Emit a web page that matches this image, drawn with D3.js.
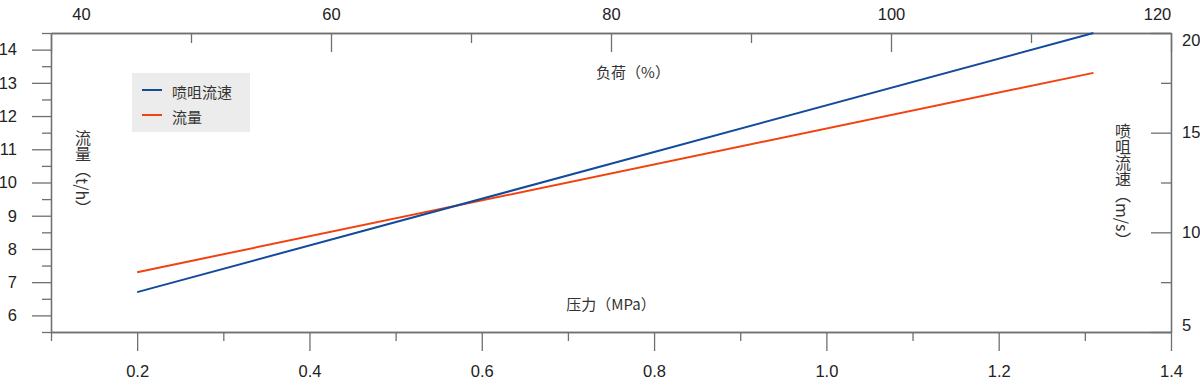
<!DOCTYPE html>
<html>
<head>
<meta charset="utf-8">
<script src="https://cdn.jsdelivr.net/npm/d3@7"></script>
<style>
  body { margin: 0; background: #fff; }
  svg { display: block; }
  .tick text { font-family: "Liberation Sans", Arial, sans-serif; font-size: 16.5px; fill: #222; }
  .domain, .tick line { stroke: #707070; stroke-width: 1.3; }
  .cjk { font-family: "Noto Sans CJK SC", sans-serif; fill: #333; }
</style>
</head>
<body>
<svg id="chart" width="1200" height="385"></svg>
<script>
// pressure (MPa) on bottom axis; flow (t/h) left axis; nozzle speed (m/s) right axis
const pressure = [0.2, 1.31];
const flowValues = [7.3, 13.3];       // 流量 t/h
const speedValues = [7.0, 20.0];      // 喷咀流速 m/s

const bottomTicks = [0.2, 0.4, 0.6, 0.8, 1.0, 1.2, 1.4];
const bottomMinor = [0.1, 0.3, 0.5, 0.7, 0.9, 1.1, 1.3];
const topTicks = [40, 60, 80, 100, 120];
const topMinor = [50, 70, 90, 110];
const leftTicks = [6, 7, 8, 9, 10, 11, 12, 13, 14];
const leftMinor = [5.5, 6.5, 7.5, 8.5, 9.5, 10.5, 11.5, 12.5, 13.5, 14.5];
const rightTicks = [5, 10, 15, 20];
const rightMinor = [7.5, 12.5, 17.5];

const legendItems = [
  { name: '喷咀流速', color: '#124b9c' },
  { name: '流量', color: '#f2420f' }
];

const svg = d3.select('#chart');
const plotLeft = 51, plotRight = 1171, plotTop = 33, plotBottom = 332;

const x = d3.scaleLinear().domain([0.1, 1.4]).range([plotLeft, plotRight]);
const xTop = d3.scaleLinear().domain([40, 120]).range([plotLeft, plotRight]);
const yLeft = d3.scaleLinear().domain([5.5, 14.5]).range([plotBottom, plotTop]);
const yRight = d3.scaleLinear().domain([5, 20]).range([plotBottom, plotTop]);

// minor ticks first (no labels)
svg.append('g').attr('transform', `translate(0,${plotBottom})`)
  .call(d3.axisBottom(x).tickValues(bottomMinor).tickSize(9).tickSizeOuter(0).tickFormat(''));
svg.append('g').attr('transform', `translate(0,${plotTop})`)
  .call(d3.axisTop(xTop).tickValues(topMinor).tickSize(-10).tickSizeOuter(0).tickFormat(''));
svg.append('g').attr('transform', `translate(${plotLeft},0)`)
  .call(d3.axisLeft(yLeft).tickValues(leftMinor).tickSize(9).tickSizeOuter(0).tickFormat(''));
svg.append('g').attr('transform', `translate(${plotRight},0)`)
  .call(d3.axisRight(yRight).tickValues(rightMinor).tickSize(-10).tickSizeOuter(0).tickFormat(''));

// major ticks
svg.append('g').attr('transform', `translate(0,${plotBottom})`)
  .call(d3.axisBottom(x).tickValues(bottomTicks).tickSize(19).tickPadding(14).tickSizeOuter(0)
    .tickFormat(d3.format('.1f')));

const topAxis = svg.append('g').attr('transform', `translate(0,${plotTop})`)
  .call(d3.axisTop(xTop).tickValues(topTicks).tickSize(-19).tickPadding(13).tickSizeOuter(0));
// end labels sit inward of their ticks in the reference
topAxis.selectAll('.tick text')
  .attr('dx', d => d === 40 ? 30 : d === 120 ? -14 : 0);

svg.append('g').attr('transform', `translate(${plotLeft},0)`)
  .call(d3.axisLeft(yLeft).tickValues(leftTicks).tickSize(19).tickPadding(15).tickSizeOuter(0));

const rightAxis = svg.append('g').attr('transform', `translate(${plotRight},0)`)
  .call(d3.axisRight(yRight).tickValues(rightTicks).tickSize(-20).tickPadding(11).tickSizeOuter(0));
rightAxis.selectAll('.tick text')
  .attr('dy', d => d === 20 ? '0.75em' : d === 5 ? '-0.1em' : '0.32em');

// series
const flowData = pressure.map((p, i) => ({ p, v: flowValues[i] }));
const speedData = pressure.map((p, i) => ({ p, v: speedValues[i] }));

svg.append('path')
  .datum(flowData)
  .attr('fill', 'none')
  .attr('stroke', legendItems[1].color)
  .attr('stroke-width', 2)
  .attr('d', d3.line().x(d => x(d.p)).y(d => yLeft(d.v)));

svg.append('path')
  .datum(speedData)
  .attr('fill', 'none')
  .attr('stroke', legendItems[0].color)
  .attr('stroke-width', 2)
  .attr('d', d3.line().x(d => x(d.p)).y(d => yRight(d.v)));

// axis titles
svg.append('text').attr('class', 'cjk')
  .attr('x', 633).attr('y', 78)
  .attr('text-anchor', 'middle')
  .style('font-size', '15px')
  .text('负荷（%）');

svg.append('text').attr('class', 'cjk')
  .attr('x', 611).attr('y', 310)
  .attr('text-anchor', 'middle')
  .style('font-size', '15px')
  .text('压力（MPa）');

svg.append('text').attr('class', 'cjk')
  .attr('x', 83).attr('y', 130)
  .style('writing-mode', 'vertical-rl')
  .style('font-size', '16px')
  .text('流量（t/h）');

svg.append('text').attr('class', 'cjk')
  .attr('x', 1123).attr('y', 123)
  .style('writing-mode', 'vertical-rl')
  .style('font-size', '16px')
  .text('喷咀流速（m/s）');

// legend
const legend = svg.append('g').attr('transform', 'translate(132,73)');
legend.append('rect')
  .attr('width', 118).attr('height', 59)
  .attr('fill', '#ececec');

const rows = legend.selectAll('g.row')
  .data(legendItems)
  .join('g')
  .attr('class', 'row')
  .attr('transform', (d, i) => `translate(0,${17 + i * 25})`);

rows.append('line')
  .attr('x1', 10).attr('x2', 30)
  .attr('stroke', d => d.color)
  .attr('stroke-width', 2);

rows.append('text').attr('class', 'cjk')
  .attr('x', 40).attr('y', 1)
  .attr('dominant-baseline', 'central')
  .style('font-size', '15px')
  .text(d => d.name);
</script>
</body>
</html>
